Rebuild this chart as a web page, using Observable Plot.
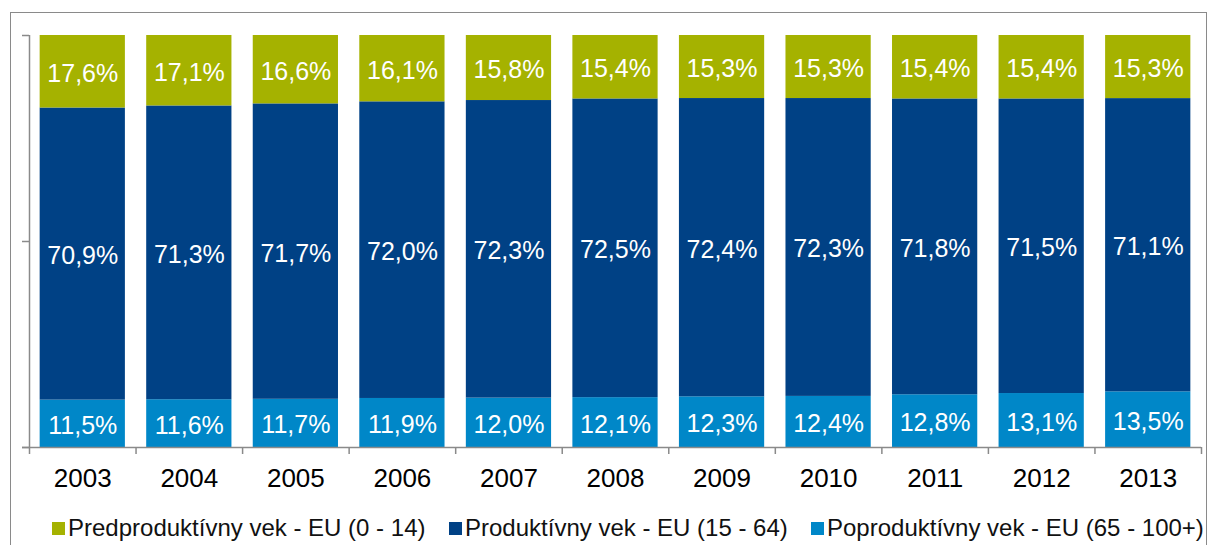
<!DOCTYPE html>
<html>
<head>
<meta charset="utf-8">
<script src="https://cdn.jsdelivr.net/npm/d3@7"></script>
<script src="https://cdn.jsdelivr.net/npm/@observablehq/plot@0.6"></script>
<style>
  html, body { margin: 0; padding: 0; background: #fff; }
  body { width: 1209px; height: 545px; overflow: hidden; position: relative; font-family: "Liberation Sans", Arial, sans-serif; }
  #frame { position: absolute; left: 10px; top: 12px; width: 1197px; height: 560px; border: 1.5px solid #8a8a8a; box-sizing: border-box; }
  #chart { position: absolute; left: 0; top: 0; }
  .item { position: absolute; top: 514px; display: flex; align-items: center; font-size: 24px; color: #111; white-space: nowrap; }
  .sw { width: 13px; height: 13px; margin-right: 3px; display: inline-block; }
</style>
</head>
<body>
<div id="frame"></div>
<div id="chart"></div>
<div id="legend"></div>
<script>
const years = ["2003","2004","2005","2006","2007","2008","2009","2010","2011","2012","2013"];
const seriesNames = ["Poproduktívny vek - EU (65 - 100+)", "Produktívny vek - EU (15 - 64)", "Predproduktívny vek - EU (0 - 14)"];
const legendOrder = ["Predproduktívny vek - EU (0 - 14)", "Produktívny vek - EU (15 - 64)", "Poproduktívny vek - EU (65 - 100+)"];
const colors = ["#0087c8", "#004185", "#a5b200"];
const post = [11.5, 11.6, 11.7, 11.9, 12.0, 12.1, 12.3, 12.4, 12.8, 13.1, 13.5];
const prod = [70.9, 71.3, 71.7, 72.0, 72.3, 72.5, 72.4, 72.3, 71.8, 71.5, 71.1];
const pre  = [17.6, 17.1, 16.6, 16.1, 15.8, 15.4, 15.3, 15.3, 15.4, 15.4, 15.3];
const yTicks = [0, 0.5, 1];

const seriesValues = [post, prod, pre];
const data = [];
years.forEach((yr, i) => {
  seriesNames.forEach((s, k) => data.push({year: yr, series: s, value: seriesValues[k][i]}));
});

const W = 1209, H = 500;
const mL = 29, mR = 8, mT = 35, mB = 53;
const step = (W - mL - mR) / years.length;
const axisColor = "#8a8a8a";

const stackOpts = {x: "year", y: "value", z: "series", offset: "normalize", order: seriesNames};

const chart = Plot.plot({
  width: W,
  height: H,
  marginLeft: mL, marginRight: mR, marginTop: mT, marginBottom: mB,
  style: {fontFamily: '"Liberation Sans", Arial, sans-serif', background: "transparent", overflow: "visible"},
  x: {domain: years, paddingInner: 0.2, paddingOuter: 0.1, round: false, axis: null},
  y: {domain: [0, 1], axis: null},
  color: {domain: seriesNames, range: colors},
  marks: [
    Plot.barY(data, Plot.stackY({...stackOpts, fill: "series"})),
    Plot.text(data, Plot.stackY({...stackOpts, text: d => d.value.toFixed(1).replace(".", ",") + "%", fill: "#fff", fontSize: 25, dy: 2})),
    // y axis line
    Plot.ruleX([years[0]], {x: d => d, dx: -step / 2, stroke: axisColor, strokeWidth: 1.5}),
    // y axis ticks
    Plot.axisY({ticks: yTicks, tickSize: 7, tickFormat: () => "", stroke: axisColor, strokeWidth: 1.5, label: null}),
    // x axis line
    Plot.ruleY([0], {stroke: axisColor, strokeWidth: 1.5, insetLeft: -7}),
    // x axis category separators
    Plot.ruleX(years, {x: d => d, dx: -step / 2, y1: 0, y2: 0, insetBottom: -7, stroke: axisColor, strokeWidth: 1.5}),
    Plot.ruleX([years[years.length - 1]], {x: d => d, dx: step / 2, y1: 0, y2: 0, insetBottom: -7, stroke: axisColor, strokeWidth: 1.5}),
    // year labels
    Plot.axisX({tickSize: 0, tickPadding: 21, fontSize: 26, fill: "#000", label: null})
  ]
});
document.getElementById("chart").appendChild(chart);

const legendX = [52, 449, 811];
const legend = document.getElementById("legend");
legendOrder.forEach((name, j) => {
  const item = document.createElement("div");
  item.className = "item";
  item.style.left = legendX[j] + "px";
  const sw = document.createElement("span");
  sw.className = "sw";
  sw.style.background = colors[seriesNames.indexOf(name)];
  const tx = document.createElement("span");
  tx.textContent = name;
  item.appendChild(sw);
  item.appendChild(tx);
  legend.appendChild(item);
});
</script>
</body>
</html>
